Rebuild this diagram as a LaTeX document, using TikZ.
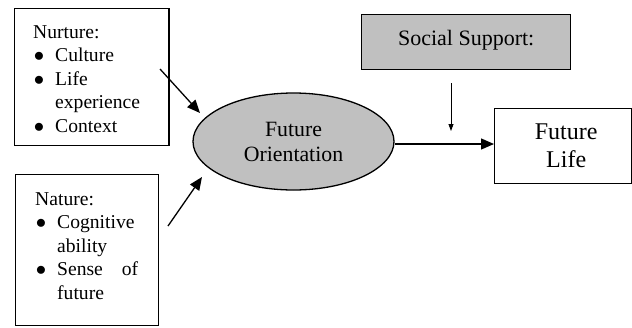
\documentclass[tikz,border=0pt]{standalone}
\usepackage{fontspec}
\setmainfont{Liberation Serif}
\usetikzlibrary{shapes.geometric,arrows.meta}
\definecolor{fillgray}{RGB}{192,192,192}
\newcommand{\bulitem}{\makebox[22pt][l]{\hspace*{0.6pt}$\bullet$}}
\begin{document}
\begin{tikzpicture}[x=1pt,y=-1pt,
  box/.style={draw, line width=1.4pt, inner sep=0pt, anchor=north west},
  listtext/.style={font=\fontsize{19.6pt}{23.5pt}\selectfont, align=left, inner sep=0pt, anchor=north west},
  arr/.style={line width=1.3pt, -{Triangle[length=13pt,width=11pt]}},
  thinarr/.style={line width=0.8pt, -{Triangle[length=7pt,width=5pt]}}]
\useasboundingbox (0,0) rectangle (632,327);

% left boxes
\node[box, minimum width=154.5pt, minimum height=137pt] (nur) at (13.75,8) {};
\node[listtext] (nurtext) at (33,25.2) {Nurture:\\
  \bulitem Culture\\
  \bulitem Life\\
  \hspace*{22pt}experience\\
  \bulitem Context};

\node[box, minimum width=143pt, minimum height=151pt] (nat) at (15,174) {};
\node[listtext] (nattext) at (35,192.2) {Nature:\\
  \bulitem Cognitive\\
  \hspace*{22pt}ability\\
  \bulitem \makebox[81pt][s]{Sense\hfill of}\\
  \hspace*{22pt}future};

% ellipse
\node[draw, ellipse, line width=1.3pt, fill=fillgray, minimum width=201pt, minimum height=97pt,
      inner sep=0pt, align=center, font=\fontsize{21.8pt}{25pt}\selectfont] (fo) at (293.5,141.5)
      {Future\\Orientation};

% social support
\node[box, fill=fillgray, minimum width=209pt, minimum height=55pt, text height=15pt, text depth=8pt,
      font=\fontsize{22pt}{26pt}\selectfont] (soc) at (361,14) {Social Support:};

% future life
\node[box, minimum width=137pt, minimum height=75pt, align=center,
      font=\fontsize{24pt}{28pt}\selectfont] (fl) at (494,108) {\hspace*{6pt}Future\\\hspace*{6pt}Life};

% arrows
\coordinate (a1s) at (160,69);
\coordinate (a1e) at (200,113);
\coordinate (a2s) at (168,226);
\coordinate (a2e) at (202,177);
\draw[arr] (a1s) -- (a1e);
\draw[arr] (a2s) -- (a2e);
\draw[arr] (fo.east |- 0,144) -- (fl.west |- 0,144);
\coordinate (vs) at (451,83);
\coordinate (ve) at (451,131);
\draw[thinarr] (vs) -- (ve);
\end{tikzpicture}
\end{document}
